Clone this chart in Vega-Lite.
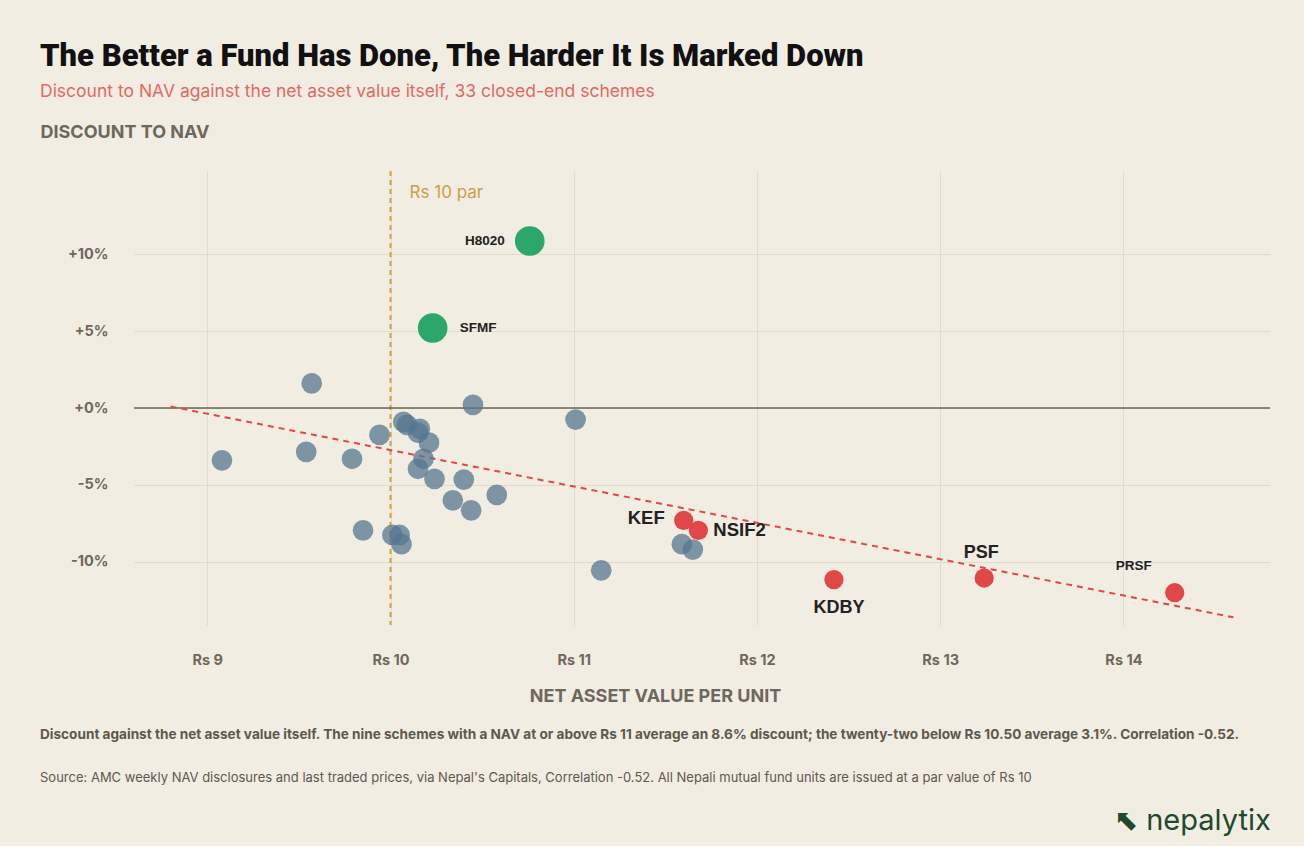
{
  "$schema": "https://vega.github.io/schema/vega-lite/v6.json",
  "background": "#f2ede3",
  "padding": {"left": 40, "right": 34, "top": 40, "bottom": 10},
  "title": {
    "text": "The Better a Fund Has Done, The Harder It Is Marked Down",
    "subtitle": "Discount to NAV against the net asset value itself, 33 closed-end schemes",
    "anchor": "start",
    "frame": "bounds",
    "font": "Roboto",
    "fontSize": 31,
    "fontWeight": 900,
    "color": "#111111",
    "subtitleFont": "Inter",
    "subtitleFontSize": 17.5,
    "subtitleColor": "#e06a62",
    "subtitlePadding": 10,
    "offset": 22
  },
  "vconcat": [
    {
      "title": {
        "text": "⬉ nepalytix",
        "orient": "bottom",
        "anchor": "end",
        "frame": "bounds",
        "font": "Inter",
        "fontSize": 29,
        "fontWeight": "normal",
        "color": "#1d4a2b",
        "offset": 22
      },
      "vconcat": [
        {
          "title": {
            "text": "Discount against the net asset value itself. The nine schemes with a NAV at or above Rs 11 average an 8.6% discount; the twenty-two below Rs 10.50 average 3.1%. Correlation -0.52.",
            "subtitle": "Source: AMC weekly NAV disclosures and last traded prices, via Nepal's Capitals, Correlation -0.52. All Nepali mutual fund units are issued at a par value of Rs 10",
            "orient": "bottom",
            "anchor": "start",
            "frame": "bounds",
            "font": "Inter",
            "fontSize": 13.6,
            "fontWeight": "bold",
            "color": "#5e584d",
            "subtitleFont": "Inter",
            "subtitleFontSize": 13,
            "subtitleColor": "#5e584d",
            "subtitlePadding": 30,
            "offset": 23
          },
          "width": 1136,
          "height": 454,
          "data": {
            "values": [
              {"fund": "", "nav": 9.57, "discount": 1.6, "group": "Other"},
              {"fund": "", "nav": 10.45, "discount": 0.2, "group": "Other"},
              {"fund": "", "nav": 11.01, "discount": -0.75, "group": "Other"},
              {"fund": "", "nav": 9.08, "discount": -3.4, "group": "Other"},
              {"fund": "", "nav": 9.54, "discount": -2.85, "group": "Other"},
              {"fund": "", "nav": 9.79, "discount": -3.3, "group": "Other"},
              {"fund": "", "nav": 9.94, "discount": -1.75, "group": "Other"},
              {"fund": "", "nav": 10.07, "discount": -0.9, "group": "Other"},
              {"fund": "", "nav": 10.09, "discount": -1.1, "group": "Other"},
              {"fund": "", "nav": 10.16, "discount": -1.35, "group": "Other"},
              {"fund": "", "nav": 10.15, "discount": -1.6, "group": "Other"},
              {"fund": "", "nav": 10.21, "discount": -2.25, "group": "Other"},
              {"fund": "", "nav": 10.18, "discount": -3.3, "group": "Other"},
              {"fund": "", "nav": 10.15, "discount": -3.95, "group": "Other"},
              {"fund": "", "nav": 10.24, "discount": -4.6, "group": "Other"},
              {"fund": "", "nav": 10.4, "discount": -4.65, "group": "Other"},
              {"fund": "", "nav": 10.58, "discount": -5.65, "group": "Other"},
              {"fund": "", "nav": 10.34, "discount": -6.0, "group": "Other"},
              {"fund": "", "nav": 10.44, "discount": -6.65, "group": "Other"},
              {"fund": "", "nav": 9.85, "discount": -7.95, "group": "Other"},
              {"fund": "", "nav": 10.01, "discount": -8.25, "group": "Other"},
              {"fund": "", "nav": 10.05, "discount": -8.25, "group": "Other"},
              {"fund": "", "nav": 10.06, "discount": -8.85, "group": "Other"},
              {"fund": "", "nav": 11.15, "discount": -10.55, "group": "Other"},
              {"fund": "", "nav": 11.59, "discount": -8.85, "group": "Other"},
              {"fund": "", "nav": 11.65, "discount": -9.2, "group": "Other"},
              {"fund": "H8020", "nav": 10.76, "discount": 10.85, "group": "Premium"},
              {"fund": "SFMF", "nav": 10.23, "discount": 5.2, "group": "Premium"},
              {"fund": "KEF", "nav": 11.6, "discount": -7.3, "group": "High NAV"},
              {"fund": "NSIF2", "nav": 11.68, "discount": -7.95, "group": "High NAV"},
              {"fund": "KDBY", "nav": 12.42, "discount": -11.15, "group": "High NAV"},
              {"fund": "PSF", "nav": 13.24, "discount": -11.05, "group": "High NAV"},
              {"fund": "PRSF", "nav": 14.28, "discount": -12.0, "group": "High NAV"}
            ]
          },
          "encoding": {
            "x": {
              "field": "nav",
              "type": "quantitative",
              "scale": {"domain": [8.6, 14.8], "nice": false, "zero": false},
              "axis": {
                "values": [9, 10, 11, 12, 13, 14],
                "labelExpr": "'Rs ' + datum.value",
                "title": "NET ASSET VALUE PER UNIT",
                "titleX": 521,
                "titleY": 76,
                "titleAlign": "center",
                "titleBaseline": "alphabetic",
                "labelPadding": 28
              }
            },
            "y": {
              "field": "discount",
              "type": "quantitative",
              "scale": {"domain": [-14.1, 15.4], "nice": false},
              "axis": {
                "values": [-10, -5, 0, 5, 10],
                "labelExpr": "(datum.value >= 0 ? '+' : '') + datum.value + '%'",
                "title": "DISCOUNT TO NAV",
                "titleAngle": 0,
                "titleAlign": "left",
                "titleBaseline": "alphabetic",
                "titleX": -94,
                "titleY": -34,
                "labelPadding": 26
              }
            }
          },
          "layer": [
            {
              "data": {"values": [{"par": 10}]},
              "mark": {"type": "rule", "color": "#d4a03c", "strokeWidth": 2, "strokeDash": [5, 4]},
              "encoding": {"x": {"field": "par", "type": "quantitative"}, "y": null}
            },
            {
              "data": {"values": [{"par": 10, "level": 14.0, "note": "Rs 10 par"}]},
              "mark": {"type": "text", "align": "left", "dx": 19, "font": "Inter", "fontSize": 17, "color": "#c9a04a"},
              "encoding": {
                "x": {"field": "par", "type": "quantitative"},
                "y": {"field": "level", "type": "quantitative"},
                "text": {"field": "note"}
              }
            },
            {
              "data": {"values": [{"level": 0}]},
              "mark": {"type": "rule", "color": "#6b6457", "strokeWidth": 1.5},
              "encoding": {"y": {"field": "level", "type": "quantitative"}, "x": null}
            },
            {
              "data": {"values": [{"nav": 8.8, "discount": 0.1}, {"nav": 14.6, "discount": -13.6}]},
              "mark": {"type": "line", "color": "#e04848", "strokeWidth": 2, "strokeDash": [6, 5]},
              "encoding": {}
            },
            {
              "transform": [{"filter": "datum.group == 'Other'"}],
              "mark": {"type": "circle", "size": 430, "color": "#56758f", "opacity": 0.75}
            },
            {
              "transform": [{"filter": "datum.group == 'Premium'"}],
              "mark": {"type": "circle", "size": 880, "color": "#2ca66a", "opacity": 1}
            },
            {
              "transform": [{"filter": "datum.group == 'High NAV'"}],
              "mark": {"type": "circle", "size": 370, "color": "#e04848", "opacity": 1}
            },
            {
              "transform": [{"filter": "datum.fund == 'H8020'"}],
              "mark": {"type": "text", "align": "right", "dx": -25, "font": "Liberation Sans", "fontWeight": "bold", "fontSize": 13.5, "color": "#222222"},
              "encoding": {"text": {"field": "fund"}}
            },
            {
              "transform": [{"filter": "datum.fund == 'SFMF'"}],
              "mark": {"type": "text", "align": "left", "dx": 27, "font": "Liberation Sans", "fontWeight": "bold", "fontSize": 13.5, "color": "#222222"},
              "encoding": {"text": {"field": "fund"}}
            },
            {
              "transform": [{"filter": "datum.fund == 'KEF'"}],
              "mark": {"type": "text", "align": "right", "dx": -19, "dy": -2, "font": "Liberation Sans", "fontWeight": "bold", "fontSize": 18.5, "color": "#222222"},
              "encoding": {"text": {"field": "fund"}}
            },
            {
              "transform": [{"filter": "datum.fund == 'NSIF2'"}],
              "mark": {"type": "text", "align": "left", "dx": 15, "font": "Liberation Sans", "fontWeight": "bold", "fontSize": 18.5, "color": "#222222"},
              "encoding": {"text": {"field": "fund"}}
            },
            {
              "transform": [{"filter": "datum.fund == 'KDBY'"}],
              "mark": {"type": "text", "align": "center", "dx": 5, "dy": 28, "font": "Liberation Sans", "fontWeight": "bold", "fontSize": 18, "color": "#222222"},
              "encoding": {"text": {"field": "fund"}}
            },
            {
              "transform": [{"filter": "datum.fund == 'PSF'"}],
              "mark": {"type": "text", "align": "center", "dx": -3, "dy": -25, "font": "Liberation Sans", "fontWeight": "bold", "fontSize": 18, "color": "#222222"},
              "encoding": {"text": {"field": "fund"}}
            },
            {
              "transform": [{"filter": "datum.fund == 'PRSF'"}],
              "mark": {"type": "text", "align": "center", "dx": -41, "dy": -27, "font": "Liberation Sans", "fontWeight": "bold", "fontSize": 13.5, "color": "#222222"},
              "encoding": {"text": {"field": "fund"}}
            }
          ]
        }
      ]
    }
  ],
  "config": {
    "view": {"stroke": null},
    "axis": {
      "domain": false,
      "ticks": false,
      "grid": true,
      "gridColor": "#e2dbcc",
      "gridWidth": 1,
      "labelFont": "Inter",
      "labelFontWeight": "bold",
      "labelFontSize": 14.5,
      "labelColor": "#6e675b",
      "titleFont": "Inter",
      "titleFontWeight": "bold",
      "titleFontSize": 18,
      "titleColor": "#6e675b"
    }
  }
}
